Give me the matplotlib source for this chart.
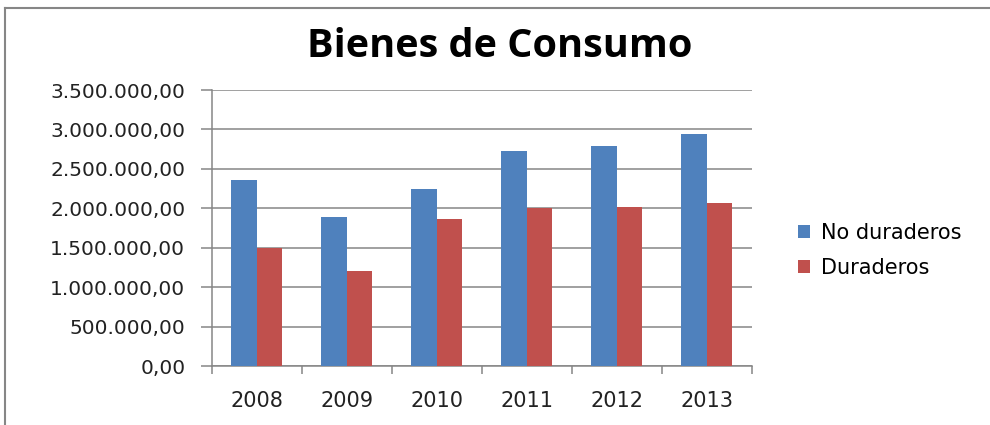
import numpy as np
import matplotlib.pyplot as plt
from matplotlib.lines import Line2D
from matplotlib.ticker import FuncFormatter, MultipleLocator

years = ["2008", "2009", "2010", "2011", "2012", "2013"]
no_duraderos = [2355000, 1889000, 2245000, 2722000, 2790000, 2938000]
duraderos = [1500000, 1201000, 1864000, 2008000, 2020000, 2067000]

BLUE = "#4F81BD"
RED = "#C0504D"
GRID = "#868686"


def es_format(v, pos):
    # 3.500.000,00 style
    s = f"{v:,.2f}"
    return s.replace(",", "X").replace(".", ",").replace("X", ".")


fig = plt.figure(figsize=(9.9, 4.25), dpi=100)
ax = fig.add_axes([0.2138, 0.1388, 0.5455, 0.6494])

x = np.arange(len(years))
w = 1 / 3.5
ax.bar(x - w / 2, no_duraderos, w, color=BLUE, label="No duraderos", zorder=3)
ax.bar(x + w / 2, duraderos, w, color=RED, label="Duraderos", zorder=3)

ax.set_xlim(-0.5, len(years) - 0.5)
ax.set_ylim(0, 3500000)
ax.yaxis.set_major_locator(MultipleLocator(500000))
ax.yaxis.set_major_formatter(FuncFormatter(es_format))
ax.grid(axis="y", color=GRID, lw=1.1, zorder=0)

ax.set_xticks(x)
ax.set_xticklabels(years)
ax.set_xticks(np.arange(-0.5, len(years)), minor=True)
ax.tick_params(axis="x", which="major", length=0, pad=18, labelsize=15,
               labelcolor="#222222")
ax.tick_params(axis="x", which="minor", length=6, color=GRID, width=1.1)
ax.tick_params(axis="y", length=8, color=GRID, width=1.1, pad=11,
               labelsize=14.5, labelcolor="#222222")
for lab in ax.get_xticklabels() + ax.get_yticklabels():
    lab.set_fontfamily("DejaVu Sans")

for side in ["top", "right"]:
    ax.spines[side].set_visible(False)
for side in ["left", "bottom"]:
    ax.spines[side].set_color(GRID)
    ax.spines[side].set_linewidth(1.1)

fig.text(0.505, 0.89, "Bienes de Consumo", ha="center", va="center",
         fontsize=28.5, fontweight="bold", family="Open Sans")

leg = fig.legend(loc="center left", bbox_to_anchor=(0.787, 0.411),
                 frameon=False, handlelength=0.6,
                 handleheight=0.6, handletextpad=0.5, labelspacing=0.75,
                 prop={"family": "DejaVu Sans", "size": 15})

# outer chart border (left and top only visible in crop)
fig.add_artist(Line2D([0.005, 0.005], [-0.01, 0.981], transform=fig.transFigure,
                      color=GRID, lw=1.5))
fig.add_artist(Line2D([0.005, 1.01], [0.981, 0.981], transform=fig.transFigure,
                      color=GRID, lw=1.5))

fig.savefig("out.png", dpi=100)
